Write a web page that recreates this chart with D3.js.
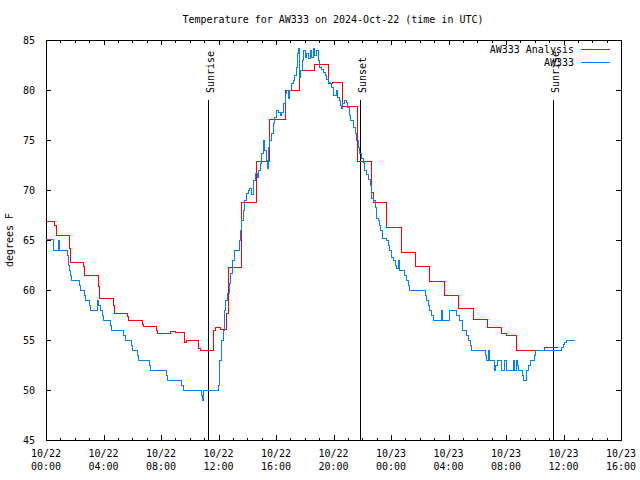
<!DOCTYPE html>
<html>
<head>
<meta charset="utf-8">
<script src="https://cdn.jsdelivr.net/npm/d3@7/dist/d3.min.js"></script>
<style>
  html, body { margin: 0; padding: 0; background: #fff; }
  text { font-family: "DejaVu Sans Mono", "Liberation Mono", monospace; font-size: 10px; fill: #000; }
</style>
</head>
<body>
<svg id="chart" width="640" height="480"></svg>
<script>
// ---- data (hours since 2024-10-22 00:00 UTC) ----
const titleText = "Temperature for AW333 on 2024-Oct-22 (time in UTC)";
const yAxisTitle = "degrees F";
const seriesNames = ["AW333 Analysis", "AW333"];

const analysisHours = [0, 0.58, 0.70, 1.62, 1.69, 2.59, 2.71, 3.64, 3.71, 4.68, 4.75, 5.66, 5.73, 6.70, 6.77, 7.67, 7.74, 8.63, 8.98, 9.62, 9.76, 10.64, 10.77, 11.64, 11.80, 12.17, 12.57, 12.70, 13.60, 14.66, 15.58, 16.68, 17.62, 18.66, 19.64, 19.95, 20.61, 21.65, 22.66, 22.77, 23.69, 24.73, 25.67, 26.68, 27.72, 28.73, 29.73, 30.70, 31.67, 32.00, 32.72, 34.71, 35.64];
const analysisTemps = [66.9, 66.5, 65.5, 64.2, 62.8, 62.4, 61.5, 60.4, 59.2, 58.5, 57.7, 57.4, 57.0, 56.6, 56.4, 56.0, 55.7, 55.9, 55.8, 54.8, 55.0, 54.2, 54.0, 56.0, 56.3, 56.1, 57.7, 62.3, 68.8, 72.9, 77.1, 80.0, 82.0, 82.6, 80.7, 80.8, 78.4, 72.9, 69.8, 68.8, 66.3, 63.8, 62.4, 60.9, 59.5, 58.2, 57.1, 56.3, 55.7, 55.5, 54.0, 54.3, 54.3];

const obsHours = [0, 0.55, 0.86, 0.93, 1.51, 1.55, 1.60, 1.72, 1.76, 2.32, 2.39, 2.71, 2.78, 3.06, 3.13, 3.57, 3.67, 3.76, 3.90, 3.97, 4.47, 4.54, 5.38, 5.52, 5.93, 6.00, 6.35, 6.42, 7.19, 7.26, 8.37, 8.44, 9.44, 9.55, 10.83, 10.87, 10.94, 11.99, 12.06, 12.10, 12.22, 12.33, 12.45, 12.52, 12.61, 12.75, 12.85, 12.99, 13.08, 13.45, 13.54, 13.61, 13.73, 13.84, 13.96, 14.07, 14.19, 14.33, 14.42, 14.54, 14.68, 14.78, 14.89, 15.01, 15.12, 15.23, 15.35, 15.39, 15.46, 15.58, 15.70, 15.81, 15.93, 16.00, 16.16, 16.28, 16.39, 16.51, 16.63, 16.74, 16.86, 16.97, 17.09, 17.20, 17.32, 17.44, 17.48, 17.55, 17.62, 17.72, 17.81, 17.90, 18.02, 18.13, 18.25, 18.37, 18.48, 18.60, 18.71, 18.83, 18.94, 19.06, 19.18, 19.29, 19.41, 19.48, 19.64, 19.76, 19.87, 19.99, 20.03, 20.22, 20.26, 20.40, 20.50, 20.57, 20.66, 20.75, 20.87, 20.96, 21.10, 21.20, 21.38, 21.50, 21.61, 21.73, 21.84, 21.96, 22.07, 22.19, 22.31, 22.42, 22.54, 22.66, 22.77, 22.89, 23.00, 23.12, 23.23, 23.30, 23.39, 23.70, 23.81, 23.93, 24.05, 24.16, 24.28, 24.40, 24.51, 24.58, 24.97, 25.09, 25.20, 25.27, 26.37, 26.47, 26.59, 26.71, 26.83, 26.94, 27.48, 27.60, 28.10, 28.59, 28.75, 28.96, 29.27, 29.38, 29.50, 29.57, 30.54, 30.61, 30.77, 30.84, 31.17, 31.30, 31.42, 31.70, 31.93, 32.02, 32.51, 32.58, 32.74, 32.83, 32.90, 33.13, 33.20, 33.44, 33.57, 33.67, 33.95, 34.02, 35.87, 35.98, 36.10, 36.22, 36.80];
const obsTemps = [65.1, 64.0, 65.0, 64.0, 63.5, 62.5, 62.0, 61.5, 61.0, 60.5, 60.0, 59.5, 59.0, 58.5, 58.0, 59.0, 58.5, 58.0, 57.5, 57.0, 56.5, 56.0, 55.5, 55.0, 54.5, 54.0, 53.5, 53.0, 52.5, 52.0, 51.5, 51.0, 50.5, 50.0, 49.5, 49.0, 50.0, 50.5, 52.0, 53.0, 55.0, 56.0, 58.0, 59.0, 59.7, 60.7, 61.7, 63.0, 64.0, 65.0, 66.0, 67.0, 68.0, 69.0, 69.7, 70.0, 70.2, 69.6, 71.0, 71.7, 71.3, 72.0, 72.7, 73.7, 75.0, 74.0, 73.0, 72.2, 74.3, 75.0, 75.7, 76.7, 77.3, 78.0, 77.8, 77.5, 77.8, 78.7, 79.7, 80.0, 79.2, 80.0, 80.7, 81.0, 81.5, 82.3, 83.7, 84.2, 81.3, 82.0, 83.0, 84.0, 83.3, 83.7, 83.2, 84.0, 83.3, 84.2, 83.5, 84.0, 83.0, 82.3, 82.1, 81.8, 81.5, 81.1, 80.8, 80.7, 80.3, 80.0, 79.5, 80.0, 79.3, 79.0, 78.5, 78.2, 78.7, 79.0, 78.8, 78.3, 77.5, 77.0, 76.3, 75.7, 75.0, 74.3, 73.7, 73.2, 72.8, 72.0, 71.6, 71.1, 70.5, 69.2, 69.0, 68.3, 67.2, 67.0, 66.5, 66.0, 65.2, 65.0, 64.5, 64.0, 63.3, 63.0, 62.5, 62.2, 63.0, 62.0, 61.5, 61.0, 60.5, 60.0, 59.5, 59.0, 58.5, 58.0, 57.5, 57.0, 58.0, 57.0, 58.0, 57.5, 57.0, 56.0, 55.5, 55.0, 54.5, 54.0, 53.5, 53.0, 54.0, 53.0, 52.0, 52.5, 53.0, 52.0, 53.0, 52.0, 53.0, 52.0, 53.0, 52.5, 52.0, 51.5, 51.0, 52.0, 52.5, 53.0, 53.5, 54.0, 54.3, 54.6, 54.8, 55.0, 55.0];

const sunLabels = ["Sunrise", "Sunset", "Sunrise"];
const sunHours = [11.27, 21.91, 35.27];

const xMajorHours = [0, 4, 8, 12, 16, 20, 24, 28, 32, 36, 40];
const xTickDates = ["10/22", "10/22", "10/22", "10/22", "10/22", "10/22", "10/23", "10/23", "10/23", "10/23", "10/23"];
const xTickTimes = ["00:00", "04:00", "08:00", "12:00", "16:00", "20:00", "00:00", "04:00", "08:00", "12:00", "16:00"];
const yTickValues = [45, 50, 55, 60, 65, 70, 75, 80, 85];

// ---- layout ----
const L = 46, R = 621, T = 40, B = 440;
const svg = d3.select("#chart");
svg.append("rect").attr("width", 640).attr("height", 480).attr("fill", "#fff");

const x = d3.scaleLinear().domain([0, 40]).range([L, R]);
const y = d3.scaleLinear().domain([45, 85]).range([B, T]);

const xMinor = d3.range(0, 41).filter(h => h % 4 !== 0);

function styleAxis(g) {
  g.select(".domain").remove();
  g.selectAll(".tick line").attr("stroke", "#000").attr("shape-rendering", "crispEdges");
}

// bottom
svg.append("g").attr("transform", `translate(0,${B})`)
  .call(d3.axisBottom(x).tickValues(xMajorHours).tickSize(-5).tickFormat(""))
  .call(styleAxis);
svg.append("g").attr("transform", `translate(0,${B})`)
  .call(d3.axisBottom(x).tickValues(xMinor).tickSize(-2.5).tickFormat(""))
  .call(styleAxis);
// top
svg.append("g").attr("transform", `translate(0,${T})`)
  .call(d3.axisTop(x).tickValues(xMajorHours).tickSize(-5).tickFormat(""))
  .call(styleAxis);
svg.append("g").attr("transform", `translate(0,${T})`)
  .call(d3.axisTop(x).tickValues(xMinor).tickSize(-2.5).tickFormat(""))
  .call(styleAxis);
// left
const gy = svg.append("g").attr("transform", `translate(${L},0)`)
  .call(d3.axisLeft(y).tickValues(yTickValues).tickSize(-5).tickPadding(11).tickFormat(d3.format("d")))
  .call(styleAxis);
gy.selectAll(".tick text").attr("font-family", null).attr("font-size", null).attr("fill", "#000");
// right
svg.append("g").attr("transform", `translate(${R},0)`)
  .call(d3.axisRight(y).tickValues(yTickValues).tickSize(-5).tickFormat(""))
  .call(styleAxis);

// x tick labels (two lines)
const xl = svg.append("g");
xMajorHours.forEach((h, i) => {
  const t = xl.append("text").attr("text-anchor", "middle");
  t.append("tspan").attr("x", x(h)).attr("y", 457).text(xTickDates[i]);
  t.append("tspan").attr("x", x(h)).attr("y", 470).text(xTickTimes[i]);
});

// frame
svg.append("rect").attr("x", L).attr("y", T).attr("width", R - L).attr("height", B - T)
  .attr("fill", "none").attr("stroke", "#000").attr("shape-rendering", "crispEdges");

// title
svg.append("text").attr("x", 333).attr("y", 23).attr("text-anchor", "middle").text(titleText);
// y axis title
svg.append("text").attr("transform", "translate(13,240) rotate(-90)").attr("text-anchor", "middle").text(yAxisTitle);

// sun lines
sunHours.forEach((h, i) => {
  svg.append("line").attr("x1", x(h)).attr("x2", x(h)).attr("y1", 100).attr("y2", B)
    .attr("stroke", "#000").attr("shape-rendering", "crispEdges");
  svg.append("text").attr("transform", `translate(${x(h) + 2},93) rotate(-90)`)
    .attr("dy", "0.35em").attr("text-anchor", "start").text(sunLabels[i]);
});

// series
const line = d3.line().x(d => x(d[0])).y(d => y(d[1])).curve(d3.curveStepAfter);
const anaData = d3.zip(analysisHours, analysisTemps);
const obsData = d3.zip(obsHours, obsTemps);
const colors = ["#ff0000", "#0080ff"];

svg.append("path").datum(anaData).attr("d", line).attr("fill", "none")
  .attr("stroke", colors[0]).attr("stroke-width", 1).attr("shape-rendering", "crispEdges");
svg.append("path").datum(obsData).attr("d", line).attr("fill", "none")
  .attr("stroke", colors[1]).attr("stroke-width", 1).attr("shape-rendering", "crispEdges");

// legend
seriesNames.forEach((name, i) => {
  const ly = 49 + i * 13;
  svg.append("text").attr("x", 574).attr("y", ly).attr("dy", "0.35em").attr("text-anchor", "end").text(name);
  svg.append("line").attr("x1", 581).attr("x2", 610).attr("y1", ly).attr("y2", ly)
    .attr("stroke", colors[i]).attr("shape-rendering", "crispEdges");
});
</script>
</body>
</html>
